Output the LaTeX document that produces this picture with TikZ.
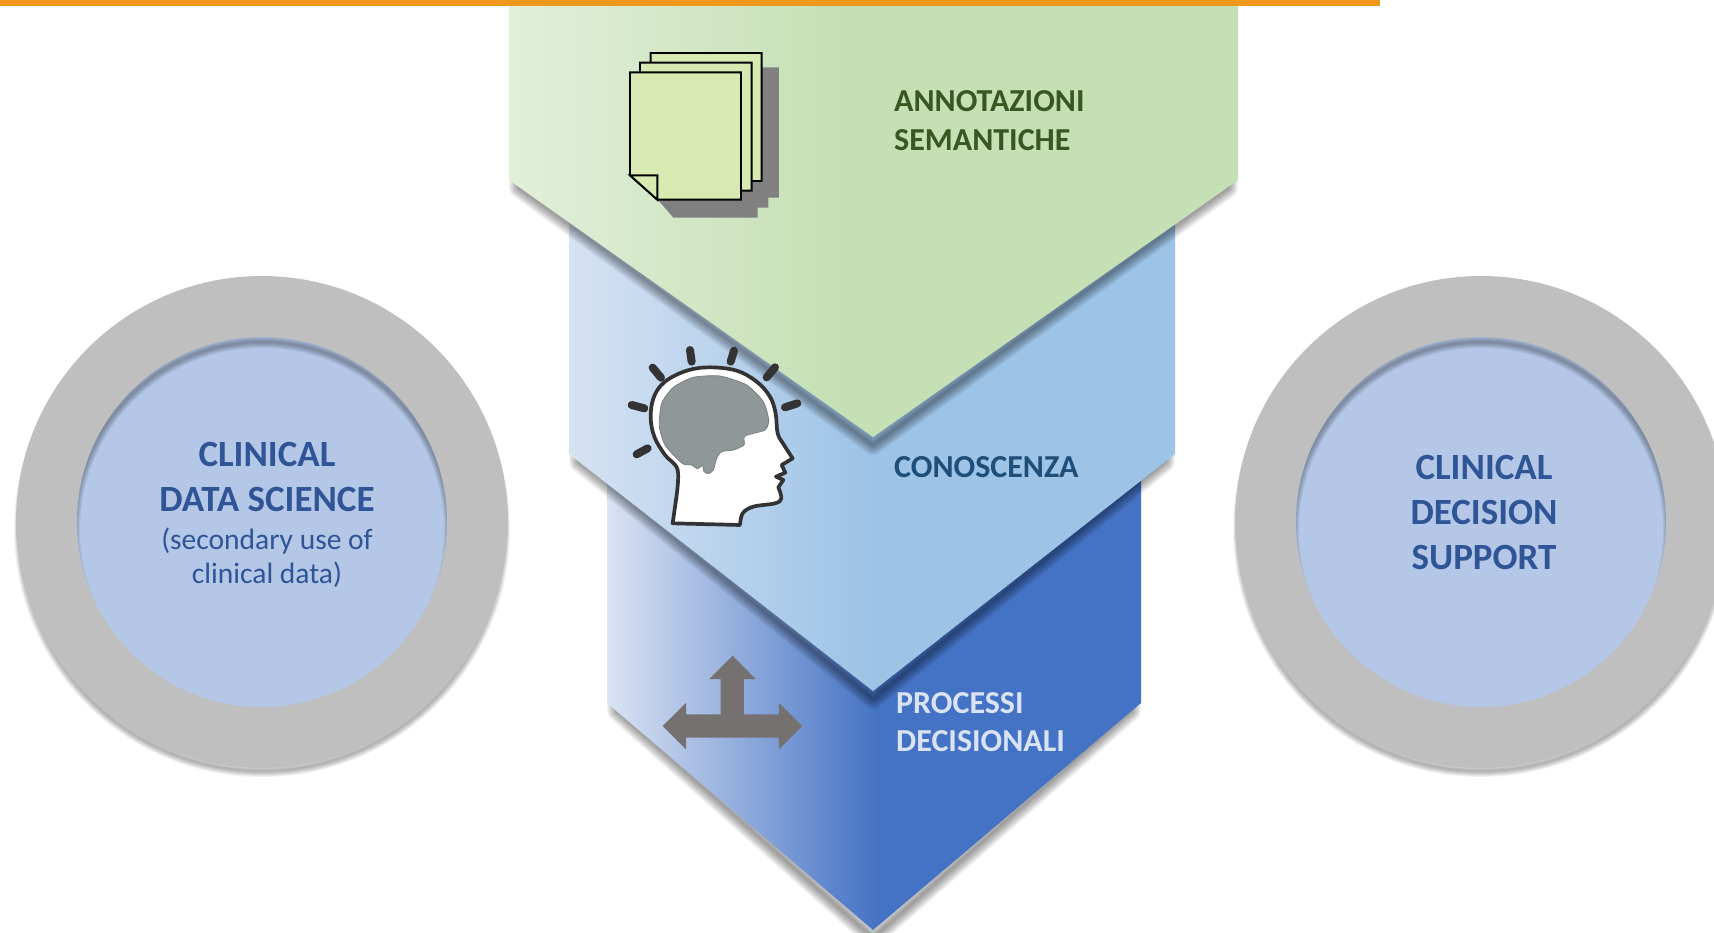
\documentclass[tikz,border=0pt]{standalone}
\usepackage{fontspec}
\setmainfont{Carlito}
\usetikzlibrary{calc}
\definecolor{orangebar}{HTML}{F0981B}
\definecolor{ringgrey}{HTML}{BFBFBF}
\definecolor{discblue}{HTML}{B4C7E7}
\definecolor{txtblue}{HTML}{2F5597}
\definecolor{txtgreen}{HTML}{385723}
\definecolor{txtcyan}{HTML}{1F4E79}
\definecolor{txtlight}{HTML}{DAE3F3}
\definecolor{gaL}{HTML}{E2EFDA}\definecolor{gaR}{HTML}{C5E0B4}
\definecolor{gbL}{HTML}{D6E2F3}\definecolor{gbR}{HTML}{9DC3E6}
\definecolor{gcL}{HTML}{DAE3F3}\definecolor{gcR}{HTML}{4472C4}
\definecolor{paper}{HTML}{D8E9B2}
\definecolor{headline}{HTML}{333333}
\definecolor{brain}{HTML}{8F9798}
\definecolor{arrowgrey}{HTML}{767171}
\pgfdeclarehorizontalshading{gradA}{100bp}{color(0bp)=(gaL);color(25bp)=(gaL);color(48bp)=(gaR);color(100bp)=(gaR)}
\pgfdeclarehorizontalshading{gradB}{100bp}{color(0bp)=(gbL);color(25bp)=(gbL);color(50bp)=(gbR);color(100bp)=(gbR)}
\pgfdeclarehorizontalshading{gradC}{100bp}{color(0bp)=(gcL);color(25bp)=(gcL);color(50.5bp)=(gcR);color(100bp)=(gcR)}
\tikzset{
  banner/.style={line join=miter},
  label/.style={font=\bfseries\fontsize{32}{38}\selectfont,inner sep=0pt,anchor=west,align=left},
  disctext/.style={font=\bfseries\fontsize{37}{45}\selectfont,text=txtblue,inner sep=0pt,align=center},
  subtext/.style={font=\fontsize{29.5}{34}\selectfont,text=txtblue,inner sep=0pt,align=center},
  ray/.style={draw=headline,line width=8pt,line cap=round},
  sheet/.style={draw=black,fill=paper,line width=1.9pt,line join=miter}
}
% soft shadow: stacked translucent strokes of a path
\newcommand{\softshade}[4]{%
  \foreach \w in {2,4,...,#2}{\path[draw=black,draw opacity=#3,line width=\w pt,line join=round,yshift=-#4 pt] #1;}%
}
\newcommand{\chevron}[6]{% x0 x1 tipx ybottomside ytip shading
  \softshade{(#1+10,0) -- (#1+10,#4) -- (#3,#5) -- (#2-10,#4) -- (#2-10,0) -- cycle}{20}{0.045}{8}
  \path[shading=#6,banner] (#1,-10) -- (#1,#4) -- (#3,#5) -- (#2,#4) -- (#2,-10) -- cycle;
}
\newcommand{\ringdisc}[2]{% cx cy
  \softshade{(#1,#2) circle[radius=242]}{12}{0.055}{7}
  \fill[ringgrey] (#1,#2) circle[radius=246];
  \fill[discblue] (#1,#2) circle[radius=185];
  \begin{scope}
    \clip (#1,#2) circle[radius=185];
    \foreach \w in {2,4,...,12}{\draw[black,draw opacity=0.055,line width=\w pt] (#1,#2+8) circle[radius=188];}
  \end{scope}
}
\begin{document}
\begin{tikzpicture}[x=1pt,y=-1pt]
\useasboundingbox (0,0) rectangle (1714,932);
\clip (0,0) rectangle (1714,932);
\fill[white] (0,0) rectangle (1714,932);
\ringdisc{262}{522}
\ringdisc{1481}{522}
\chevron{607}{1141}{873}{703}{930}{gradC}
\chevron{569}{1175}{873}{454}{691}{gradB}
\chevron{509}{1238}{873}{180}{437}{gradA}
\fill[orangebar] (0,0) rectangle (1380,6);
% paper stack
\begin{scope}[shift={(600,30)},x=0.3333pt,y=-0.3333pt]
  \fill[black!50] (170,505) -- (220,563) -- (473,563) -- (473,533) -- (505,533) -- (505,503) -- (537,503) -- (537,112) -- (400,112) -- cycle;
  \path[sheet] (152,69) -- (485,69) -- (485,453) -- (400,453) -- (152,250) -- cycle;
  \path[sheet] (120,98) -- (455,98) -- (455,482) -- (400,482) -- (120,250) -- cycle;
  \path[sheet] (90,127) -- (423,127) -- (423,509) -- (172,509) -- (90,436) -- cycle;
  \path[sheet] (90,436) -- (172,436) -- (172,509) -- cycle;
\end{scope}
% head
\begin{scope}[shift={(610,330)},x=0.3333pt,y=-0.3333pt]
  \draw[ray] (240,60) -- (245,95);
  \draw[ray] (372,62) -- (362,95);
  \draw[ray] (128,113) -- (153,143);
  \draw[ray] (495,112) -- (470,142);
  \draw[ray] (65,225) -- (103,235);
  \draw[ray] (562,220) -- (525,232);
  \draw[ray] (80,373) -- (113,355);
  \draw[headline,fill=white,line width=3.7pt,line join=round]
    (188,580) -- (198,510)
    -- plot[smooth,tension=0.6] coordinates {(198,510) (203,420) (165,375) (133,320) (122,260) (132,200) (165,155) (230,122) (300,112) (380,122) (440,155) (480,200) (497,250) (503,310) (522,345) (548,385)}
    -- (515,405) -- (526,428) -- (498,440) -- (520,450) -- (505,472)
    -- plot[smooth,tension=0.6] coordinates {(505,472) (514,505) (495,520) (430,530) (398,550) (390,585)}
    -- cycle;
  \draw[fill=brain,draw=brain!85!black,line width=0.8pt,line join=round]
    plot[smooth cycle,tension=0.4] coordinates {(148,290) (155,220) (190,172) (250,142) (330,138) (410,165) (460,215) (476,270) (465,300) (405,318) (402,345) (370,360) (335,365) (320,385) (310,420) (296,431) (282,425) (278,407) (262,416) (245,405) (222,403) (200,385) (165,345)};
\end{scope}
% decision arrow
\begin{scope}[shift={(640,640)},x=0.3333pt,y=-0.3333pt]
  \fill[arrowgrey] (278,47) -- (347,117) -- (312,117) -- (312,223) -- (417,223) -- (417,189) -- (487,258) -- (417,328) -- (417,293) -- (138,293) -- (138,328) -- (68,258) -- (138,189) -- (138,223) -- (242,223) -- (242,117) -- (208,117) -- cycle;
\end{scope}
% labels
\node[label,text=txtgreen] (annot) at (894,121) {ANNOTAZIONI\\[1pt]SEMANTICHE};
\node[label,text=txtcyan] (cono) at (894,467) {CONOSCENZA};
\node[label,text=txtlight] (proc) at (896,722) {PROCESSI\\[0pt]DECISIONALI};
\node[disctext] (lefttitle) at (267,477) {CLINICAL\\DATA SCIENCE};
\node[subtext] (leftsub) at (267,558) {(secondary use of\\clinical data)};
\node[disctext] (righttitle) at (1484,512) {CLINICAL\\DECISION\\SUPPORT};
\end{tikzpicture}
\end{document}
